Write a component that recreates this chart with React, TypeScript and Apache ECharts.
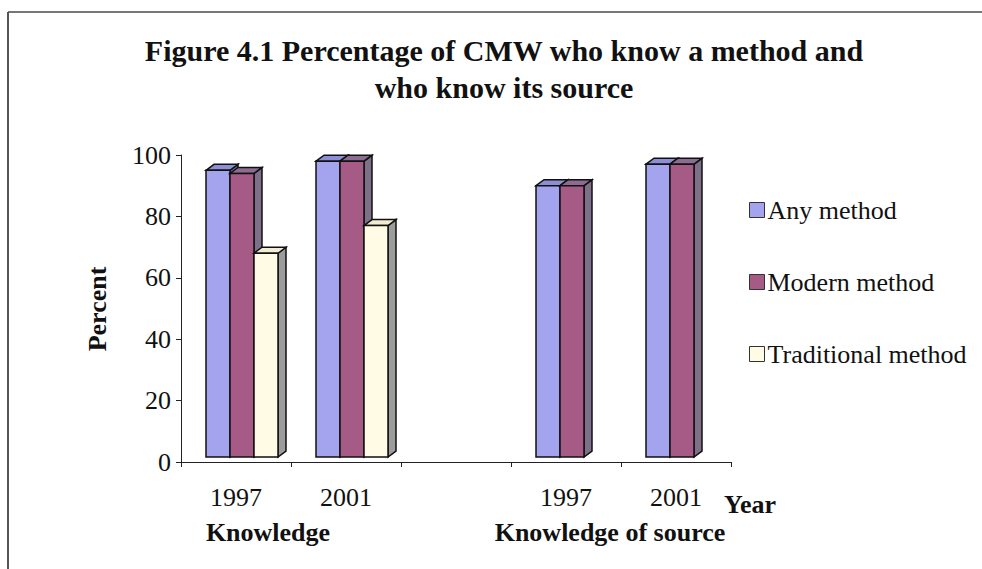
import React, { useEffect, useRef } from "react";
import * as echarts from "echarts";

const categories = ["1997", "2001", "", "1997", "2001"];
const seriesNames = ["Any method", "Modern method", "Traditional method"];
const anyMethod: (number | null)[] = [95, 98, null, 90, 97];
const modernMethod: (number | null)[] = [94, 98, null, 90, 97];
const traditionalMethod: (number | null)[] = [68, 77, null, null, null];
const yTicks = [0, 20, 40, 60, 80, 100];

const FONT = '"Liberation Serif", "Times New Roman", serif';

const frontColors = ["#a3a3ee", "#a65a86", "#fffbe4"];
const topColors = ["#8e8ed6", "#8d6c92", "#f1ecd2"];
const sideColors = ["#7c7ca8", "#7e7088", "#9c9c9c"];

function toData(arr: (number | null)[]) {
  const out: [number, number][] = [];
  arr.forEach((v, k) => {
    if (v != null) out.push([k, v]);
  });
  return out;
}

export default function App() {
  const ref = useRef<HTMLDivElement>(null);
  useEffect(() => {
    if (!ref.current) return;
    const chart = echarts.init(ref.current, undefined, { renderer: "svg" });
    const DX = 8;
    const DY = 6;
    const BW = 24;
    const renderItem = (params: any, api: any) => {
      const idx = api.value(0);
      const val = api.value(1);
      const i = params.seriesIndex;
      const topPt = api.coord([idx, val]);
      const basePt = api.coord([idx, 0]);
      const x0 = topPt[0] - 30 + i * BW;
      const top = topPt[1];
      const bottom = basePt[1] - 5;
      const stroke = { stroke: "#111", lineWidth: 1.5 };
      return {
        type: "group",
        children: [
          {
            type: "polygon",
            shape: {
              points: [
                [x0 + BW, top],
                [x0 + BW + DX, top - DY],
                [x0 + BW + DX, bottom - DY],
                [x0 + BW, bottom],
              ],
            },
            style: { fill: sideColors[i], ...stroke },
          },
          {
            type: "polygon",
            shape: {
              points: [
                [x0, top],
                [x0 + DX, top - DY],
                [x0 + BW + DX, top - DY],
                [x0 + BW, top],
              ],
            },
            style: { fill: topColors[i], ...stroke },
          },
          {
            type: "rect",
            shape: { x: x0, y: top, width: BW, height: bottom - top },
            style: { fill: frontColors[i], ...stroke },
          },
        ],
      };
    };
    const seriesData = [anyMethod, modernMethod, traditionalMethod];
    chart.setOption({
      animation: false,
      backgroundColor: "#ffffff",
      title: {
        text: "Figure 4.1 Percentage of CMW who know a method and\nwho know its source",
        left: 499,
        top: 27,
        textAlign: "center",
        textStyle: {
          fontFamily: FONT,
          fontSize: 30,
          fontWeight: "bold",
          color: "#111",
          lineHeight: 37,
        },
      },
      legend: {
        orient: "vertical",
        left: 744,
        top: 192,
        icon: "rect",
        itemWidth: 15,
        itemHeight: 15,
        itemGap: 46,
        data: seriesNames,
        itemStyle: { borderColor: "#333", borderWidth: 1 },
        textStyle: {
          fontFamily: FONT,
          fontSize: 26,
          color: "#111",
          lineHeight: 26,
          padding: [0, 0, 0, -2],
        },
      },
      grid: { left: 181, right: 251, top: 155, bottom: 107 },
      xAxis: {
        type: "category",
        data: categories,
        boundaryGap: true,
        axisLine: { lineStyle: { color: "#222", width: 1 } },
        axisTick: { show: true, alignWithLabel: false, length: 5, lineStyle: { color: "#222" } },
        axisLabel: { fontFamily: FONT, fontSize: 26, color: "#111", margin: 22 },
        splitLine: { show: false },
      },
      yAxis: {
        type: "value",
        min: yTicks[0],
        max: yTicks[yTicks.length - 1],
        interval: 20,
        axisLine: { show: true, lineStyle: { color: "#222", width: 1 } },
        axisTick: { show: true, length: 5, lineStyle: { color: "#222" } },
        axisLabel: { fontFamily: FONT, fontSize: 26, color: "#111", margin: 10 },
        splitLine: { show: false },
      },
      graphic: [
        { type: "line", shape: { x1: 8, y1: 12, x2: 982, y2: 12 }, style: { stroke: "#777", lineWidth: 2 } },
        { type: "line", shape: { x1: 8, y1: 12, x2: 8, y2: 569 }, style: { stroke: "#555", lineWidth: 2 } },
        {
          type: "text",
          x: 97,
          y: 309,
          rotation: Math.PI / 2,
          style: { text: "Percent", fontFamily: FONT, fontSize: 26, fontWeight: "bold", fill: "#111", align: "center", verticalAlign: "middle" },
        },
        {
          type: "text",
          x: 268,
          y: 532,
          style: { text: "Knowledge", fontFamily: FONT, fontSize: 26, fontWeight: "bold", fill: "#111", align: "center", verticalAlign: "middle" },
        },
        {
          type: "text",
          x: 610,
          y: 532,
          style: { text: "Knowledge of source", fontFamily: FONT, fontSize: 26, fontWeight: "bold", fill: "#111", align: "center", verticalAlign: "middle" },
        },
        {
          type: "text",
          x: 750,
          y: 504,
          style: { text: "Year", fontFamily: FONT, fontSize: 26, fontWeight: "bold", fill: "#111", align: "center", verticalAlign: "middle" },
        },
      ],
      series: seriesNames.map((name, i) => ({
        name,
        type: "custom",
        renderItem,
        encode: { x: 0, y: 1 },
        itemStyle: { color: frontColors[i], borderColor: "#333", borderWidth: 1 },
        data: toData(seriesData[i]),
      })),
    });
    return () => chart.dispose();
  }, []);
  return (
    <div
      ref={ref}
      style={{ position: "fixed", left: 0, top: 0, width: 982, height: 569 }}
    />
  );
}
